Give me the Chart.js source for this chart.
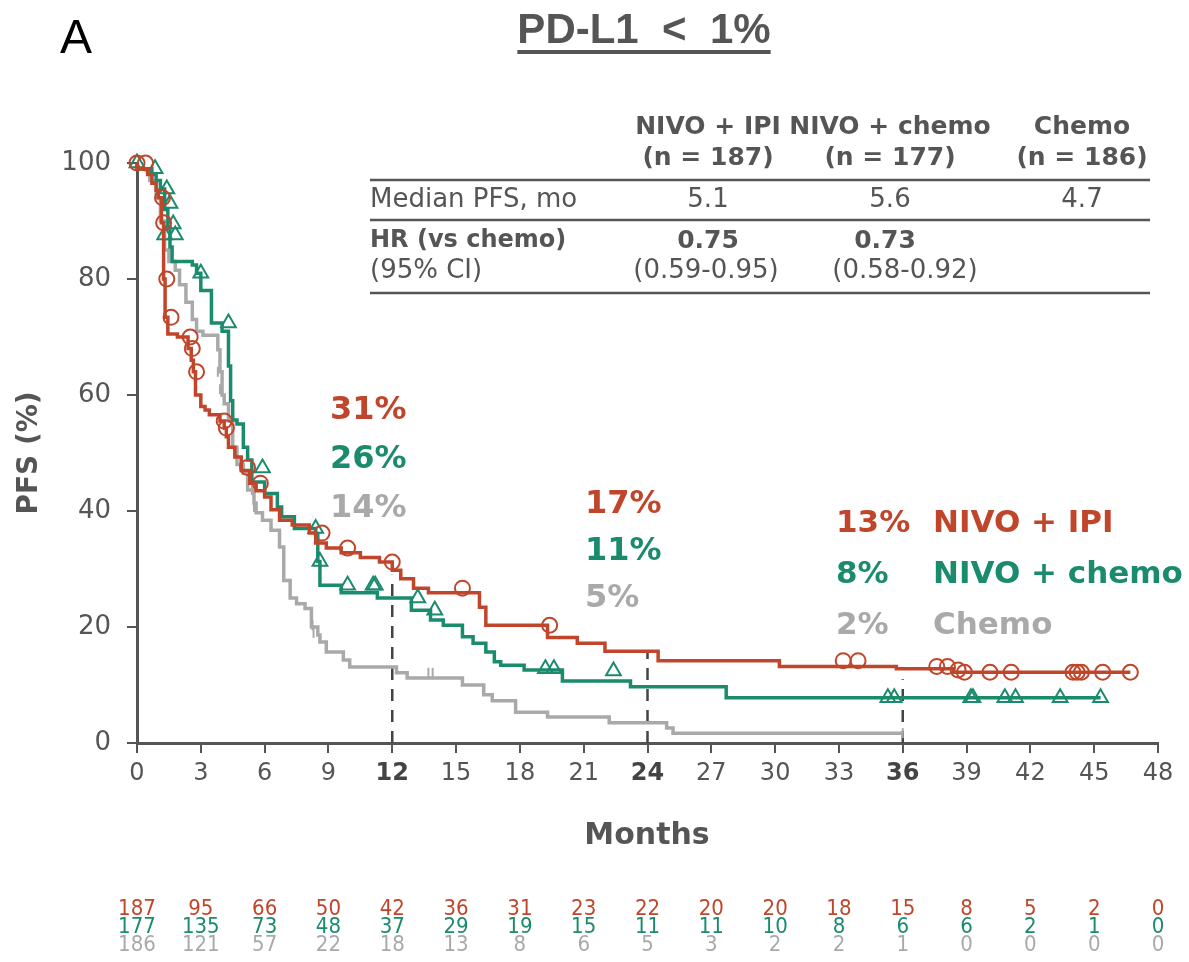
<!DOCTYPE html>
<html>
<head>
<meta charset="utf-8">
<script src="https://cdn.jsdelivr.net/npm/chart.js@4.4.0/dist/chart.umd.min.js"></script>
<style>
  body { margin: 0; background: #fff; }
  canvas { display: block; }
</style>
</head>
<body>
<canvas id="kmChart" width="1189" height="962"></canvas>
<script>
// Months on the x axis (also the at-risk columns)
const monthTicks = [0, 3, 6, 9, 12, 15, 18, 21, 24, 27, 30, 33, 36, 39, 42, 45, 48];

// KM steps: [month, PFS %]
const nivoIpiCurve = [
  [0,100],[0.5,99],[0.7,98],[0.9,96.5],[1.0,95.3],[1.15,94],[1.25,89.7],[1.32,80],[1.45,73.4],
  [1.9,70.5],[2.4,70],[2.55,68],[2.65,66],[2.75,64],[3.0,60],[3.2,58],[3.4,57.4],[3.9,56.6],
  [4.1,55.5],[4.2,54.3],[4.3,52.8],[4.6,51],[4.9,49.3],[5.3,47],[5.6,44.8],[6.0,43.5],[6.3,42.4],
  [6.7,40.2],[7.3,38.4],[8.1,37.6],[8.4,36.2],[8.9,34.5],[9.6,33.6],[10.5,32.8],[11.4,32.0],
  [12.0,31.2],[12.4,29.8],[13.0,28.3],[13.7,26.7],[16.1,25.9],[16.4,23.4],[19.3,20.3],[20.7,18.2],
  [22.0,17.2],[24.5,15.8],[30.2,14.2],[35.7,13.2],[38.4,12.8],[38.7,12.2],[46.7,12.2]
];
const nivoChemoCurve = [
  [0,100],[0.7,99],[0.9,98],[1.1,97],[1.3,95.5],[1.45,92],[1.55,89],[1.65,85.5],[2.6,83],[2.8,82.4],
  [3.0,81],[3.5,78],[4.0,72.4],[4.3,71],[4.4,65],[4.5,59],[4.7,55.7],[5.0,55],[5.2,51],[5.4,48.8],
  [6.0,45],[6.6,43],[6.8,40.7],[7.4,39],[8.4,37],[8.5,36],[8.6,31.3],[9.6,27.2],[11.3,25.9],
  [12.9,25],[13.8,22.9],[14.4,21.2],[15.3,20.3],[15.8,18.3],[16.4,17.2],[16.8,15.7],[17.1,14.0],
  [18.2,13.4],[20.0,12.6],[23.2,10.7],[27.7,9.7],[30.2,7.8],[45.3,7.8]
];
const chemoCurve = [
  [0,100],[0.6,99],[0.9,97],[1.1,94],[1.3,90],[1.5,85],[1.8,83],[2.0,81.5],[2.3,79],[2.6,76],
  [2.8,73],[3.1,71],[3.8,70.3],[3.9,67.8],[4.0,64],[4.1,60],[4.3,58.5],[4.5,55.5],[4.7,51],
  [5.0,48],[5.2,46.5],[5.5,43.6],[5.6,41.4],[5.9,39.7],[6.3,38.4],[6.7,36.7],[6.9,33.8],[7.2,28],
  [7.5,25],[7.9,24],[8.2,23.2],[8.5,20],[8.6,18.6],[8.9,17.4],[9.7,15.7],[10.0,14.3],[12.2,13.1],
  [12.7,12.1],[15.3,11.2],[16.3,10],[16.7,8.3],[17.8,7.3],[19.3,5.3],[22.2,4.5],[24.9,3.5],
  [25.2,2.6],[27.7,1.7],[36,1.7]
];

// censor marks
const nivoIpiCensor = [
  [0,100],[0.4,100],[1.2,94],[1.25,89.7],[1.4,80],[1.6,73.4],[2.5,70],[2.6,68],[2.8,64],[4.1,55.5],
  [4.2,54.3],[5.2,47.5],[5.8,44.8],[8.7,36.2],[9.9,33.6],[12.0,31.2],[15.3,26.7],[19.4,20.3],
  [33.2,14.2],[33.9,14.2],[37.6,13.2],[38.1,13.2],[38.6,12.6],[38.9,12.2],[40.1,12.2],[41.1,12.2],
  [44.0,12.2],[44.2,12.2],[44.4,12.2],[45.4,12.2],[46.7,12.2]
];
const nivoChemoCensor = [
  [0,100],[0.85,99],[1.4,95.5],[1.55,93],[1.7,89.5],[1.3,87.6],[1.8,87.6],[3.0,81],[4.3,72.4],
  [5.9,47.4],[8.4,37],[8.6,31.3],[9.9,27.2],[11.1,27.2],[11.2,27.2],[13.2,25],[14.0,22.9],
  [19.2,12.8],[19.6,12.8],[22.4,12.4],[35.3,7.8],[35.6,7.8],[39.2,7.8],[39.3,7.8],[40.8,7.8],
  [41.3,7.8],[43.4,7.8],[45.3,7.8]
];
const chemoCensor = [
  [3.8,64],[3.9,61],[5.4,43.6],[5.5,40.7],[8.2,22.4],[8.25,20.3],[8.3,19],[13.7,12.1],[13.9,12.1],[36,1.7]
];

// dashed landmark lines
const landmarkMonths = [12, 24, 36];
const landmarkTops = [29, 16, 11];

// landmark percentages
const pct12 = ['31%', '26%', '14%'];
const pct24 = ['17%', '11%', '5%'];
const pct36 = ['13%', '8%', '2%'];
const armNames = ['NIVO + IPI', 'NIVO + chemo', 'Chemo'];

// numbers at risk
const atRiskIpi = [187, 95, 66, 50, 42, 36, 31, 23, 22, 20, 20, 18, 15, 8, 5, 2, 0];
const atRiskNivoChemo = [177, 135, 73, 48, 37, 29, 19, 15, 11, 11, 10, 8, 6, 6, 2, 1, 0];
const atRiskChemo = [186, 121, 57, 22, 18, 13, 8, 6, 5, 3, 2, 2, 1, 0, 0, 0, 0];

const RED = '#c0462b';
const GREEN = '#1b8b6d';
const GREY = '#a9a9a9';
const AXIS = '#555555';
const FONT = "'DejaVu Sans', sans-serif";

const toPts = arr => arr.map(([x, y]) => ({ x, y }));
const isLandmark = ctx => !!(ctx.tick && landmarkMonths.includes(ctx.tick.value));

function curve(data, color) {
  return {
    data: toPts(data), borderColor: color, borderWidth: 3.5, stepped: 'after',
    pointRadius: 0, fill: false, clip: false
  };
}
function marks(data, color, style, radius, rotation) {
  return {
    data: toPts(data), showLine: false, borderColor: color, backgroundColor: 'rgba(0,0,0,0)',
    pointStyle: style, pointRadius: radius, pointBorderWidth: 2, pointRotation: rotation || 0,
    clip: false
  };
}

const landmarkSets = landmarkMonths.map((m, i) => ({
  data: [{ x: m, y: 0 }, { x: m, y: landmarkTops[i] }],
  borderColor: '#444', borderWidth: 2.5, borderDash: [12, 9], pointRadius: 0, clip: false
}));

// text, table and at-risk rows
const textPlugin = {
  id: 'kmText',
  afterDraw(chart) {
    const c = chart.ctx;
    const xs = chart.scales.x;
    c.save();
    c.textBaseline = 'middle';

    // panel letter + title
    c.fillStyle = '#000';
    c.textAlign = 'left';
    c.font = "48px 'Liberation Sans Narrow', 'Liberation Sans', sans-serif";
    c.fillText('A', 60, 40);
    c.fillStyle = AXIS;
    c.textAlign = 'center';
    c.font = "bold 42px 'Liberation Sans Narrow', 'Liberation Sans', sans-serif";
    const title = 'PD-L1  <  1%';
    c.fillText(title, 644, 31);
    const tw = c.measureText(title).width;
    c.fillRect(644 - tw / 2, 50, tw, 4);

    // axis titles
    c.font = 'bold 30px ' + FONT;
    c.fillText('Months', 647, 836);
    c.font = 'bold 28px ' + FONT;
    c.save();
    c.translate(30, 453);
    c.rotate(-Math.PI / 2);
    c.fillText('PFS (%)', 0, 0);
    c.restore();

    // table
    const cols = [708, 890, 1082];
    c.font = 'bold 25px ' + FONT;
    armNames.forEach((n, i) => c.fillText(n, cols[i], 127));
    ['(n = 187)', '(n = 177)', '(n = 186)'].forEach((n, i) => c.fillText(n, cols[i], 158));
    c.font = '26px ' + FONT;
    ['5.1', '5.6', '4.7'].forEach((n, i) => c.fillText(n, cols[i], 200));
    c.font = 'bold 25px ' + FONT;
    c.fillText('0.75', 708, 241);
    c.fillText('0.73', 885, 241);
    c.font = '26px ' + FONT;
    c.fillText('(0.59-0.95)', 706, 271);
    c.fillText('(0.58-0.92)', 905, 271);
    c.textAlign = 'left';
    c.fillText('Median PFS, mo', 370, 200);
    c.fillText('(95% CI)', 370, 271);
    c.font = 'bold 24px ' + FONT;
    c.fillText('HR (vs chemo)', 370, 241);
    c.strokeStyle = AXIS;
    c.lineWidth = 2.5;
    [180, 220, 293].forEach(y => {
      c.beginPath(); c.moveTo(370, y); c.lineTo(1150, y); c.stroke();
    });

    // landmark labels
    const colors = [RED, GREEN, GREY];
    c.font = 'bold 32px ' + FONT;
    pct12.forEach((t, i) => { c.fillStyle = colors[i]; c.fillText(t, 330, 411 + i * 49); });
    pct24.forEach((t, i) => { c.fillStyle = colors[i]; c.fillText(t, 585, 505 + i * 47); });
    c.font = 'bold 31px ' + FONT;
    pct36.forEach((t, i) => {
      c.fillStyle = colors[i];
      c.fillText(t, 836, 524 + i * 51);
      c.fillText(armNames[i], 933, 524 + i * 51);
    });

    // at-risk rows
    c.textAlign = 'center';
    c.font = "22px 'DejaVu Sans Condensed', 'DejaVu Sans', sans-serif";
    [atRiskIpi, atRiskNivoChemo, atRiskChemo].forEach((row, r) => {
      c.fillStyle = colors[r];
      row.forEach((v, i) => c.fillText(String(v), xs.getPixelForValue(monthTicks[i]), 909 + r * 18));
    });
    c.restore();
  }
};

new Chart(document.getElementById('kmChart'), {
  type: 'line',
  data: {
    datasets: [
      marks(nivoIpiCensor, RED, 'circle', 7.5),
      curve(nivoIpiCurve, RED),
      marks(nivoChemoCensor, GREEN, 'triangle', 8.5),
      curve(nivoChemoCurve, GREEN),
      marks(chemoCensor, GREY, 'line', 5, 90),
      curve(chemoCurve, GREY),
      ...landmarkSets
    ]
  },
  options: {
    responsive: false,
    animation: false,
    layout: { padding: { left: 0, top: 163, right: 31, bottom: 159 } },
    plugins: { legend: { display: false }, tooltip: { enabled: false } },
    scales: {
      x: {
        type: 'linear', min: 0, max: 48,
        afterFit: s => { s.height = 60; },
        afterBuildTicks: s => { s.ticks = monthTicks.map(v => ({ value: v })); },
        grid: { drawOnChartArea: false, tickLength: 10, color: AXIS, lineWidth: 2 },
        border: { color: AXIS, width: 3 },
        ticks: {
          autoSkip: false, maxRotation: 0, padding: 6,
          color: ctx => isLandmark(ctx) ? '#444' : AXIS,
          font: ctx => ({ family: FONT, size: 24, weight: isLandmark(ctx) ? 'bold' : 'normal' })
        }
      },
      y: {
        min: 0, max: 100,
        afterFit: s => { s.width = 137; },
        grid: { drawOnChartArea: false, tickLength: 10, color: AXIS, lineWidth: 2 },
        border: { color: AXIS, width: 3 },
        ticks: { stepSize: 20, padding: 16, color: AXIS, font: { family: FONT, size: 26 } }
      }
    }
  },
  plugins: [textPlugin]
});
</script>
</body>
</html>
